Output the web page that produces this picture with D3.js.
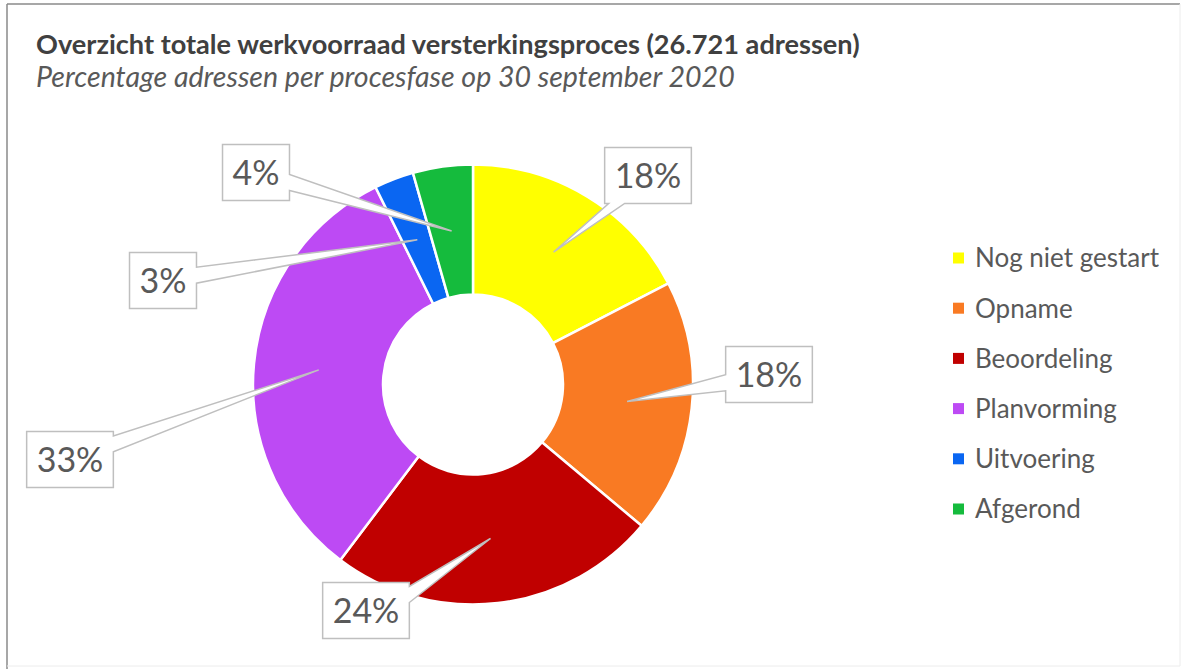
<!DOCTYPE html>
<html>
<head>
<meta charset="utf-8">
<script src="https://cdn.jsdelivr.net/npm/d3@7"></script>
<style>
  html, body { margin: 0; padding: 0; background: #fff; }
  svg { display: block; font-family: Lato, "Open Sans", sans-serif; }
</style>
</head>
<body>
<div id="chart"></div>
<script>
// Process phases and their share of the 26.721 addresses
const phases = ["Nog niet gestart", "Opname", "Beoordeling", "Planvorming", "Uitvoering", "Afgerond"];
const shares = [17.4, 18.7, 24.2, 32.4, 2.9, 4.4];
const shareLabels = ["18%", "18%", "24%", "33%", "3%", "4%"];
const phaseColors = ["#ffff00", "#f97a23", "#c00000", "#bd4af4", "#0a66f2", "#15bb3d"];

const titleText = "Overzicht totale werkvoorraad versterkingsproces (26.721 adressen)";
const subtitleText = "Percentage adressen per procesfase op 30 september 2020";

const W = 1183, H = 669;
const cx = 473, cy = 384.5;
const outerR = 220, innerR = 90;

// callout box centres, relative to the donut centre
const calloutOffsets = [[175, -209], [296, -10], [-107, 226], [-403, 75], [-310, -104], [-217, -212]];

const svg = d3.select("#chart").append("svg")
  .attr("width", W)
  .attr("height", H);

// frame
svg.append("line").attr("x1", 7).attr("y1", 4).attr("x2", 1180).attr("y2", 4)
  .attr("stroke", "#8a8a8a").attr("stroke-width", 1.5);
svg.append("line").attr("x1", 7).attr("y1", 4).attr("x2", 7).attr("y2", H)
  .attr("stroke", "#8a8a8a").attr("stroke-width", 1.5);
svg.append("line").attr("x1", 1180).attr("y1", 4).attr("x2", 1180).attr("y2", 666)
  .attr("stroke", "#ececec").attr("stroke-width", 1);
svg.append("line").attr("x1", 7).attr("y1", 666).attr("x2", 1180).attr("y2", 666)
  .attr("stroke", "#ececec").attr("stroke-width", 1);

// fit a text element to a target width
function fitWidth(sel, target) {
  const fs = parseFloat(sel.style("font-size"));
  const len = sel.node().getComputedTextLength();
  sel.style("font-size", (fs * target / len) + "px");
}

const title = svg.append("text")
  .attr("x", 36)
  .attr("y", 54)
  .style("font-size", "22px")
  .style("font-weight", "bold")
  .style("fill", "#404040")
  .text(titleText);
fitWidth(title, 824);

const subtitle = svg.append("text")
  .attr("x", 36)
  .attr("y", 87)
  .style("font-size", "20px")
  .style("font-style", "italic")
  .style("fill", "#595959")
  .text(subtitleText);
fitWidth(subtitle, 699);

// donut
const pie = d3.pie().sort(null).value(d => d);
const arcs = pie(shares);
const arc = d3.arc().innerRadius(innerR).outerRadius(outerR);

const g = svg.append("g").attr("transform", `translate(${cx},${cy})`);

g.selectAll("path.slice")
  .data(arcs)
  .enter().append("path")
  .attr("class", "slice")
  .attr("d", arc)
  .attr("fill", (d, i) => phaseColors[i])
  .attr("stroke", "#fff")
  .attr("stroke-width", 2.5);

// callouts: box with a pointer that ends in the slice centroid
function calloutPath(x0, y0, x1, y1, tx, ty) {
  const mx = (x0 + x1) / 2, my = (y0 + y1) / 2;
  const hw = (x1 - x0) / 2, hh = (y1 - y0) / 2;
  const dx = tx - mx, dy = ty - my;
  const tX = dx !== 0 ? hw / Math.abs(dx) : Infinity;
  const tY = dy !== 0 ? hh / Math.abs(dy) : Infinity;
  const half = 8, pad = 4;
  const clamp = (v, a, b) => Math.max(a + half + pad, Math.min(b - half - pad, v));
  const p = d3.path();
  p.moveTo(x0, y0);
  if (tY < tX && dy < 0) {
    const c = clamp(mx + dx * tY, x0, x1);
    p.lineTo(c - half, y0); p.lineTo(tx, ty); p.lineTo(c + half, y0);
  }
  p.lineTo(x1, y0);
  if (tX <= tY && dx > 0) {
    const c = clamp(my + dy * tX, y0, y1);
    p.lineTo(x1, c - half); p.lineTo(tx, ty); p.lineTo(x1, c + half);
  }
  p.lineTo(x1, y1);
  if (tY < tX && dy > 0) {
    const c = clamp(mx + dx * tY, x0, x1);
    p.lineTo(c + half, y1); p.lineTo(tx, ty); p.lineTo(c - half, y1);
  }
  p.lineTo(x0, y1);
  if (tX <= tY && dx < 0) {
    const c = clamp(my + dy * tX, y0, y1);
    p.lineTo(x0, c + half); p.lineTo(tx, ty); p.lineTo(x0, c - half);
  }
  p.closePath();
  return p.toString();
}

const callouts = g.selectAll("g.callout")
  .data(arcs)
  .enter().append("g")
  .attr("class", "callout");

callouts.each(function(d, i) {
  const grp = d3.select(this);
  const [tx, ty] = arc.centroid(d);
  const [bx, by] = calloutOffsets[i];
  const shape = grp.append("path");
  const txt = grp.append("text")
    .attr("x", bx)
    .attr("y", by)
    .attr("dy", "0.36em")
    .attr("text-anchor", "middle")
    .style("font-size", "34px")
    .style("fill", "#595959")
    .text(shareLabels[i]);
  const tw = txt.node().getComputedTextLength();
  const bw = tw + 20, bh = 56;
  shape
    .attr("d", calloutPath(bx - bw / 2, by - bh / 2, bx + bw / 2, by + bh / 2, tx, ty))
    .attr("fill", "#fff")
    .attr("stroke", "#bfbfbf")
    .attr("stroke-width", 1.5)
    .attr("stroke-linejoin", "miter");
});

// legend
const legendY = d3.scalePoint().domain(phases).range([258, 509]);
const legend = svg.append("g");
const items = legend.selectAll("g")
  .data(phases)
  .enter().append("g")
  .attr("transform", d => `translate(953,${legendY(d)})`);
items.append("rect")
  .attr("x", 0).attr("y", -5.5)
  .attr("width", 11).attr("height", 11)
  .attr("fill", (d, i) => phaseColors[i]);
items.append("text")
  .attr("x", 22)
  .attr("dy", "0.36em")
  .style("font-size", "26px")
  .style("fill", "#595959")
  .text(d => d);
</script>
</body>
</html>
